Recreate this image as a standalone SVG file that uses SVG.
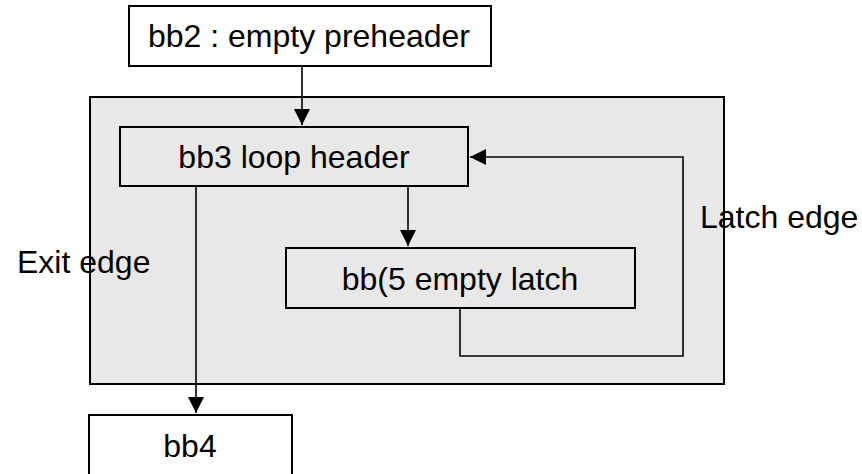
<svg xmlns="http://www.w3.org/2000/svg" width="862" height="474" viewBox="0 0 862 474">
  <style>
    .box { fill: #ffffff; stroke: #000000; stroke-width: 2; }
    .inner { fill: #e8e8e8; stroke: #000000; stroke-width: 2; }
    .loop { fill: #e8e8e8; stroke: #000000; stroke-width: 2; }
    .lbl { font-family: "Liberation Sans", Arial, sans-serif; font-size: 32px; fill: #000000; }
    .edge { fill: none; stroke: #000000; stroke-width: 1.6; }
  </style>
  <defs>
    <marker id="arrow" markerUnits="userSpaceOnUse" markerWidth="17" markerHeight="16" refX="16" refY="8" orient="auto">
      <path d="M0,0 L16,8 L0,16 z" fill="#000000"/>
    </marker>
  </defs>
  <rect id="loop-region" class="loop" x="90" y="97" width="634" height="287"/>
  <g id="bb2">
    <rect class="box" x="129" y="6" width="362" height="60"/>
    <text class="lbl" x="309" y="47" text-anchor="middle">bb2 : empty preheader</text>
  </g>
  <g id="bb3">
    <rect class="inner" x="120" y="127" width="348" height="59"/>
    <text class="lbl" x="294" y="168" text-anchor="middle">bb3 loop header</text>
  </g>
  <g id="bb5">
    <rect class="inner" x="286" y="248" width="349" height="60"/>
    <text class="lbl" x="460" y="290" text-anchor="middle">bb(5 empty latch</text>
  </g>
  <g id="bb4">
    <rect class="box" x="89" y="415" width="203" height="70"/>
    <text class="lbl" x="190" y="457" text-anchor="middle">bb4</text>
  </g>
  <g id="connectors">
    <line class="edge" x1="302" y1="66" x2="302" y2="125" marker-end="url(#arrow)"/>
    <line class="edge" x1="408" y1="186" x2="408" y2="246" marker-end="url(#arrow)"/>
    <line class="edge" x1="196" y1="186" x2="196" y2="413" marker-end="url(#arrow)"/>
    <polyline class="edge" points="460,308 460,356 683,356 683,157 470,157" marker-end="url(#arrow)"/>
  </g>
  <text class="lbl" x="700" y="228">Latch edge</text>
  <text class="lbl" x="17" y="273">Exit edge</text>
</svg>
